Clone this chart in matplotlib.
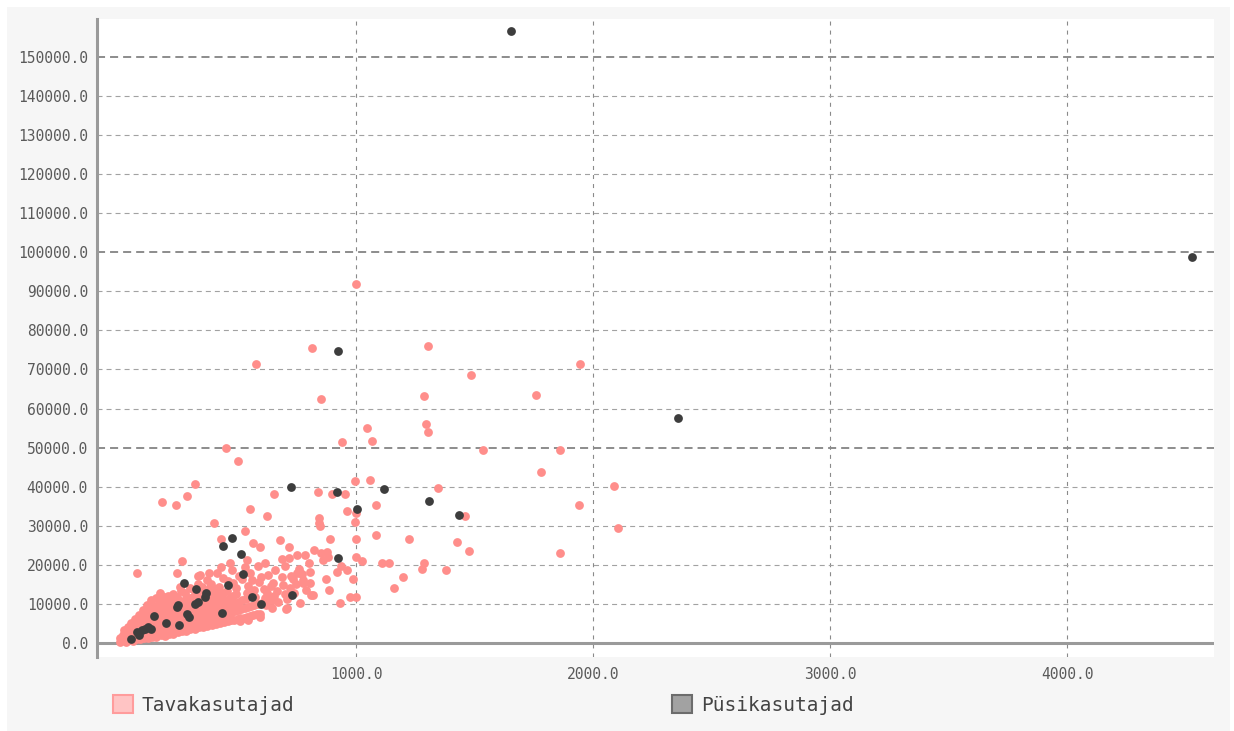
import matplotlib
matplotlib.use("Agg")
import matplotlib.pyplot as plt
from matplotlib.patches import Rectangle, Patch
from matplotlib.ticker import FixedLocator, FuncFormatter

plt.rcParams["lines.scale_dashes"] = False

series_names = ["Tavakasutajad", "Püsikasutajad"]
series_colors = ["#ff8e8b", "#3d3d3d"]
legend_faces = ["#ffc4c4", "#a2a2a2"]
legend_edges = ["#ff9c9c", "#6c6c6c"]

x_ticks = [1000, 2000, 3000, 4000]
y_ticks = [0, 10000, 20000, 30000, 40000, 50000, 60000, 70000, 80000,
           90000, 100000, 110000, 120000, 130000, 140000, 150000]
y_major = [50000, 100000, 150000]

# occasional users: the dense band near the origin
tav_core = [
    (4, 250), (6, 1400), (14, 700), (17, 2100), (22, 3300), (29, 350), (31, 1300), (34, 2700),
    (38, 4100), (44, 800), (47, 2000), (49, 3500), (52, 5000), (58, 550), (61, 1700), (63, 3000),
    (66, 4500), (69, 6100), (73, 1100), (76, 2500), (78, 3900), (81, 5400), (84, 7100), (88, 900),
    (91, 2200), (93, 3600), (96, 5000), (98, 6600), (101, 8500), (104, 1400), (107, 2900),
    (109, 4400), (112, 5900), (114, 7600), (117, 9800), (121, 1200), (123, 2600), (126, 4000),
    (128, 5500), (131, 7100), (133, 8800), (136, 10900), (139, 1600), (141, 3100), (144, 4700),
    (146, 6200), (149, 7900), (151, 9500), (154, 11400), (157, 1500), (159, 2900), (162, 4400),
    (164, 6000), (167, 7500), (169, 9100), (172, 10700), (175, 2000), (177, 3500), (180, 5100),
    (182, 6600), (185, 8300), (187, 9900), (190, 11800), (193, 1900), (195, 3300), (198, 4800),
    (200, 6400), (203, 8000), (205, 9700), (208, 11300), (211, 2400), (213, 3900), (216, 5500),
    (218, 7100), (221, 8700), (223, 10400), (226, 12600), (229, 2300), (231, 3800), (234, 5300),
    (236, 6900), (239, 8500), (241, 10100), (244, 11900), (247, 2700), (249, 4200), (252, 5800),
    (254, 7400), (257, 9000), (259, 10700), (262, 13300), (265, 3000), (267, 4500), (270, 6100),
    (272, 7700), (275, 9300), (277, 11000), (280, 12700), (283, 3200), (285, 4800), (288, 6400),
    (290, 8000), (293, 9700), (295, 11400), (298, 14100), (301, 3500), (303, 5100), (306, 6700),
    (308, 8400), (311, 10100), (313, 11800), (316, 13600), (319, 3700), (321, 5300), (324, 6900),
    (326, 8600), (329, 10300), (331, 12100), (334, 15000), (337, 4000), (339, 5600), (342, 7200),
    (344, 8900), (347, 10700), (349, 12500), (352, 14300), (355, 4200), (357, 5900), (360, 7500),
    (362, 9200), (365, 11000), (367, 12900), (370, 16200), (373, 4400), (375, 6100), (378, 7800),
    (380, 9600), (383, 11400), (385, 13300), (388, 15200), (391, 4700), (393, 6400), (396, 8100),
    (398, 9900), (401, 11800), (403, 13800), (407, 4900), (410, 6700), (413, 8500), (416, 10300),
    (419, 12200), (422, 14400), (426, 5200), (429, 7000), (432, 8800), (435, 10700), (438, 12700),
    (442, 5400), (445, 7300), (448, 9200), (451, 11100), (454, 13200), (458, 5600), (461, 7600),
    (464, 9500), (467, 11500), (471, 5800), (474, 7800), (477, 9900), (480, 12000), (485, 6000),
    (488, 8100), (491, 10300), (495, 12500), (500, 6200), (503, 8400), (506, 10600), (512, 6300),
    (516, 8600), (520, 11000), (526, 6500), (530, 8900), (535, 11300), (541, 6700), (545, 9100),
    (552, 6900), (557, 9400), (565, 7100), (570, 9700), (580, 7300), (586, 10000), (596, 7500),
    (603, 10200),
]

# occasional users: scattered points around and above the band
tav_spread = [
    (76, 17900), (173, 12800), (207, 12000), (257, 14300), (245, 17900), (266, 21000),
    (333, 17100), (342, 17400), (413, 17900), (439, 16600), (384, 14300), (460, 15800),
    (481, 15400), (495, 14200), (520, 16500), (540, 12800), (553, 17900), (570, 13600),
    (590, 15600), (612, 13900), (640, 14600), (668, 13200), (700, 12600), (720, 14000),
    (740, 12800), (660, 18600), (700, 19600), (585, 19800), (530, 19500), (475, 18800),
    (430, 19500), (380, 18000), (629, 17400), (650, 15400), (688, 16900), (764, 17900),
    (776, 16100), (806, 18200), (819, 12300), (709, 9000), (650, 11000), (616, 11500),
    (595, 6700), (544, 5900), (510, 5600), (654, 12000), (637, 11000), (620, 9700),
    (751, 17900), (772, 17700), (734, 16400), (806, 15400), (776, 15400), (873, 16400),
    (764, 10200), (705, 8700), (810, 12300), (565, 25600), (595, 24600), (679, 26400),
    (717, 24600), (688, 21500), (717, 21800), (751, 22500), (785, 22500), (823, 23800),
    (861, 21200), (882, 22000), (852, 23000), (878, 23300), (890, 26600), (920, 18200),
    (937, 19700), (962, 18700), (987, 16400), (975, 11800), (1000, 11800), (932, 10200),
    (886, 13600), (1000, 22000), (1000, 26600), (1000, 33300), (1025, 21000), (844, 32000),
    (844, 30700), (848, 29900), (1084, 27600), (1110, 20500), (1139, 20500), (1224, 26600),
    (1160, 14100), (1198, 16900), (1287, 20500), (1278, 18900), (1380, 18700), (1426, 25900),
    (1477, 23500), (1861, 23000), (1000, 91900), (578, 71400), (814, 75500), (1304, 76000),
    (1945, 71400), (1485, 68600), (1759, 63500), (1287, 63200), (852, 62500), (1295, 56100),
    (1304, 54000), (1046, 55000), (1068, 51700), (941, 51400), (451, 49900), (1536, 49400),
    (1861, 49400), (502, 46600), (1780, 43800), (321, 40700), (1059, 41700), (996, 41500),
    (2088, 40200), (1346, 39700), (840, 38600), (899, 38100), (953, 38100), (287, 37600),
    (181, 36100), (240, 35300), (1084, 35300), (1941, 35300), (962, 33800), (1460, 32500),
    (624, 32500), (553, 34300), (654, 38100), (401, 30700), (996, 31000), (2105, 29400),
    (532, 28700), (430, 26600), (545, 14500), (560, 16200), (575, 11800), (600, 17000),
    (625, 12800), (645, 9000), (670, 10600), (690, 14900), (710, 11300), (725, 17200),
    (745, 15000), (760, 19000), (790, 13600), (800, 20400), (615, 20500), (540, 21300),
    (505, 17200), (470, 20600),
]

# regular users
pus_points = [
    (1654, 156600), (4527, 98800), (2359, 57600), (924, 74700), (726, 39900), (920, 38650),
    (1118, 39400), (1004, 34300), (1308, 36300), (1435, 32800), (924, 21800), (730, 12300),
    (477, 26900), (439, 24800), (515, 22800), (523, 17700), (460, 14900), (274, 15400),
    (561, 11800), (599, 10000), (434, 7700), (325, 13800), (367, 12800), (363, 11800),
    (333, 10500), (321, 10000), (249, 9700), (245, 9200), (148, 6900), (198, 5100),
    (253, 4600), (287, 7400), (295, 6700), (110, 3600), (122, 4100), (97, 3300),
    (76, 2800), (84, 2000), (51, 1000), (135, 3600),
]

W, H, DPI = 1234, 731, 100
fig = plt.figure(figsize=(W / DPI, H / DPI), dpi=DPI)
fig.patch.set_facecolor("white")
fig.add_artist(Rectangle((7 / W, 0), (1230 - 7) / W, (H - 7) / H,
                         transform=fig.transFigure, facecolor="#f6f6f6",
                         edgecolor="none", zorder=-5))

ax = fig.add_axes([97 / W, 1 - 657 / H, (1214 - 97) / W, (657 - 19) / H])
ax.set_facecolor("white")
ax.set_xlim(-93, 4620)
ax.set_ylim(-3580, 159700)

for s in ["top", "right", "bottom"]:
    ax.spines[s].set_visible(False)
ax.spines["left"].set_color("#9a9a9a")
ax.spines["left"].set_linewidth(2.2)

mono = "DejaVu Sans Mono"
ax.xaxis.set_major_locator(FixedLocator(x_ticks))
ax.yaxis.set_major_locator(FixedLocator(y_ticks))
fmt = FuncFormatter(lambda v, p: f"{v:.1f}")
ax.xaxis.set_major_formatter(fmt)
ax.yaxis.set_major_formatter(fmt)
ax.tick_params(axis="both", length=0, labelcolor="#5a5a5a", labelsize=10.5)
ax.tick_params(axis="y", pad=6.5)
ax.tick_params(axis="x", pad=7)
for lab in ax.get_xticklabels() + ax.get_yticklabels():
    lab.set_family(mono)

ax.set_axisbelow(True)
# thin dashed grid
ax.xaxis.grid(True, color="#8a8a8a", linewidth=0.8, linestyle=(0, (2.9, 3.6)))
for yv in y_ticks[1:]:
    if yv in y_major:
        ax.axhline(yv, color="#8c8c8c", linewidth=1.4, linestyle=(0, (5.8, 3.6)), zorder=0.6)
    else:
        ax.axhline(yv, color="#a2a2a2", linewidth=0.8, linestyle=(0, (3.6, 2.9)), zorder=0.6)
ax.axhline(0, color="#9a9a9a", linewidth=2.2, zorder=0.7)

tx = [p[0] for p in tav_core + tav_spread]
ty = [p[1] for p in tav_core + tav_spread]
px = [p[0] for p in pus_points]
py = [p[1] for p in pus_points]
ax.scatter(tx, ty, s=40, color=series_colors[0], linewidths=0, zorder=2)
ax.scatter(px, py, s=40, color=series_colors[1], linewidths=0, zorder=3)

handles = [Patch(facecolor=legend_faces[i], edgecolor=legend_edges[i], linewidth=1.5)
           for i in range(2)]
fig.legend(handles, series_names, loc="upper left",
           bbox_to_anchor=(113 / W, 1 - 695 / H), ncol=2, frameon=False,
           borderpad=0, borderaxespad=0, handlelength=1.03, handleheight=1.03,
           handletextpad=0.46, columnspacing=19.4,
           prop={"family": mono, "size": 14}, labelcolor="#444444")

fig.savefig("out.png", dpi=DPI, facecolor=fig.get_facecolor())
